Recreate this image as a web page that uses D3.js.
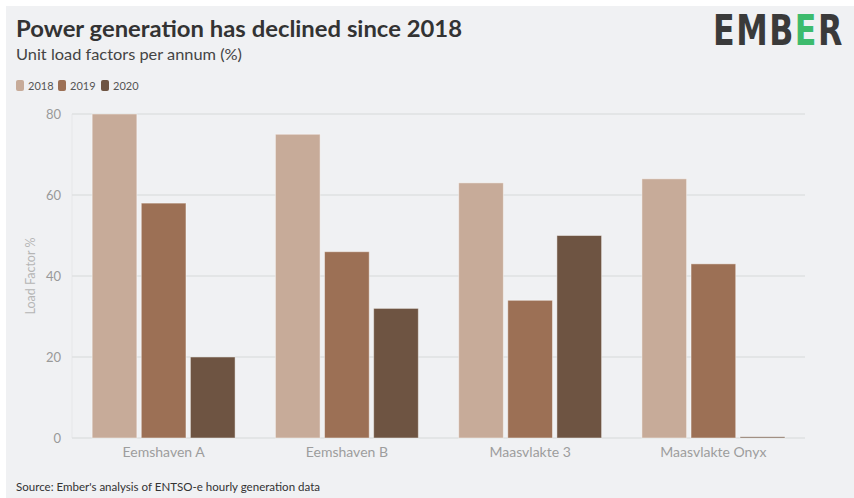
<!DOCTYPE html>
<html><head><meta charset="utf-8">
<script src="https://cdn.jsdelivr.net/npm/d3@7"></script>
<style>html,body{margin:0;padding:0;background:#fff;}svg{display:block;}</style>
</head><body>
<svg id="chart" width="854" height="498"></svg>
<script>
const categories = ["Eemshaven A", "Eemshaven B", "Maasvlakte 3", "Maasvlakte Onyx"];
const years = ["2018", "2019", "2020"];
const values2018 = [80, 75, 63, 64];
const values2019 = [58, 46, 34, 43];
const values2020 = [20, 32, 50, 0.3];
const yTicks = [0, 20, 40, 60, 80];
const colors = ["#c7ab99", "#9c7055", "#6e5442"];

const series = [values2018, values2019, values2020];
const data = categories.map((c, i) => ({cat: c, vals: years.map((y, j) => ({year: y, v: series[j][i], j}))}));

const svg = d3.select("#chart");
const font = "'Lato', 'Noto Sans', sans-serif";

svg.append("rect").attr("x", 6).attr("y", 6).attr("width", 848).attr("height", 492).attr("fill", "#f0f1f3");

function fit(sel, w) {
  const n = sel.node();
  const len = n.getComputedTextLength();
  if (Math.abs(len - w) > 1) sel.attr("textLength", w).attr("lengthAdjust", "spacingAndGlyphs");
  return sel;
}

// Title
fit(svg.append("text").attr("x", 16).attr("y", 37).attr("font-family", font).attr("font-weight", 700)
  .attr("font-size", 22).attr("fill", "#333").text("Power generation has declined since 2018"), 446);
fit(svg.append("text").attr("x", 16).attr("y", 60).attr("font-family", font).attr("font-weight", 400)
  .attr("font-size", 16).attr("fill", "#444").text("Unit load factors per annum (%)"), 226);

// Logo (scaled horizontally as a whole to fit its width)
const logoG = svg.append("g");
const logo = logoG.append("text").attr("x", 0).attr("y", 0).attr("font-family", "'DejaVu Sans', sans-serif")
  .attr("font-weight", 700).attr("font-size", 42).attr("letter-spacing", 2).attr("fill", "#3a3a3a");
logo.append("tspan").text("EMB");
logo.append("tspan").attr("fill", "#3dbb6d").text("E");
logo.append("tspan").text("R");
const logoW = logo.node().getBBox().width;
logoG.attr("transform", `translate(713,45) scale(${131 / logoW},1)`);

// Legend
const legX = [16, 58, 101];
years.forEach((y, j) => {
  svg.append("rect").attr("x", legX[j]).attr("y", 80).attr("width", 8).attr("height", 11).attr("rx", 2)
    .attr("fill", colors[j]);
  svg.append("text").attr("x", legX[j] + 12).attr("y", 90).attr("font-family", font).attr("font-size", 11)
    .attr("fill", "#555").text(y);
});

// Scales
const plotL = 72, plotR = 805, plotT = 114, plotB = 438;
const x0 = d3.scaleBand().domain(categories).range([plotL, plotR]).paddingInner(0.22).paddingOuter(0.11);
const x1 = d3.scaleBand().domain(years).range([0, x0.bandwidth()]).paddingInner(0.09).paddingOuter(0);
const y = d3.scaleLinear().domain([0, 80]).range([plotB, plotT]);

// Grid
svg.append("line").attr("x1", plotL).attr("x2", plotL).attr("y1", plotT).attr("y2", plotB)
  .attr("stroke", "#e6e7e9").attr("stroke-width", 1);
svg.append("g").selectAll("line").data(yTicks).join("line")
  .attr("x1", plotL).attr("x2", plotR).attr("y1", d => y(d)).attr("y2", d => y(d))
  .attr("stroke", "#dfe0e2").attr("stroke-width", 1.5);

// Y axis via d3 axis
const yAxis = d3.axisLeft(y).tickValues(yTicks).tickSize(0).tickPadding(0);
const gy = svg.append("g").attr("transform", `translate(${plotL - 11},0)`).call(yAxis);
gy.select(".domain").remove();
gy.selectAll("text").attr("font-family", font).attr("font-size", 13).attr("fill", "#999").attr("dy", "0.35em");

svg.append("text").attr("transform", `translate(35,276) rotate(-90)`).attr("text-anchor", "middle")
  .attr("font-family", font).attr("font-size", 12.5).attr("fill", "#b5b5b5").text("Load Factor %");

// Bars
const groups = svg.append("g").selectAll("g").data(data).join("g")
  .attr("transform", d => `translate(${x0(d.cat)},0)`);
groups.selectAll("rect").data(d => d.vals).join("rect")
  .attr("x", d => x1(d.year)).attr("width", x1.bandwidth())
  .attr("y", d => y(d.v)).attr("height", d => y(0) - y(d.v))
  .attr("fill", d => colors[d.j])
  .attr("stroke", "rgba(255,255,255,0.45)").attr("stroke-width", 1);

// X axis
const xAxis = d3.axisBottom(x0).tickSize(0).tickPadding(0);
const gx = svg.append("g").attr("transform", `translate(0,${plotB})`).call(xAxis);
gx.select(".domain").remove();
gx.selectAll("text").attr("font-family", font).attr("font-size", 14).attr("fill", "#9d9d9d")
  .attr("dy", null).attr("y", 19);

// Source
fit(svg.append("text").attr("x", 16).attr("y", 491).attr("font-family", font).attr("font-size", 12)
  .attr("fill", "#333").text("Source: Ember's analysis of ENTSO-e hourly generation data"), 304);
</script>
</body></html>
